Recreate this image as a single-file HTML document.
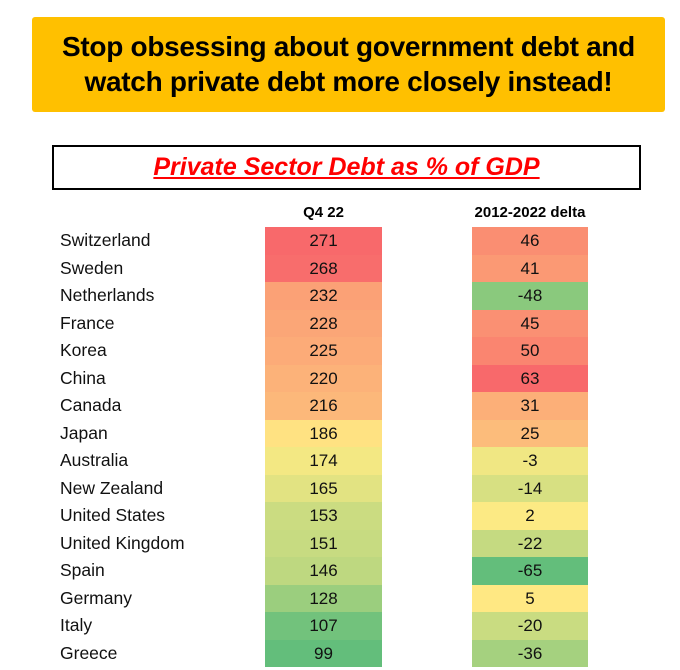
<!DOCTYPE html>
<html><head><meta charset="utf-8"><style>
body{margin:0;width:680px;height:670px;background:#fff;font-family:"Liberation Sans",sans-serif;position:relative;overflow:hidden}
.abs{position:absolute}
#title{left:32px;top:17px;width:633px;height:95px;background:#FFC000;border-radius:3px;text-align:center;font-weight:bold;font-size:28px;line-height:35px;box-sizing:border-box;padding-top:12px;color:#000;letter-spacing:-0.3px}
#sub{left:52px;top:145px;width:589px;height:45px;border:2px solid #000;box-sizing:border-box;text-align:center;color:#f00;font-style:italic;font-weight:bold;font-size:25px;line-height:41px}
#sub span{text-decoration:underline}
.hdr{font-weight:bold;font-size:15px;text-align:center;top:204px}
.name{left:60px;font-size:17.5px;height:27.5px;line-height:27.5px;color:#111}
.cell{font-size:17px;text-align:center;height:27.5px;line-height:27.5px;color:#111}
</style></head><body>
<div id="title" class="abs">Stop obsessing about government debt and<br>watch private debt more closely instead!</div>
<div id="sub" class="abs"><span>Private Sector Debt as % of GDP</span></div>
<div class="abs hdr" style="left:265px;width:117px">Q4 22</div>
<div class="abs hdr" style="left:455px;width:150px">2012-2022 delta</div>
<div id="rows"></div>
<script>
const countries=["Switzerland","Sweden","Netherlands","France","Korea","China","Canada","Japan","Australia","New Zealand","United States","United Kingdom","Spain","Germany","Italy","Greece"];
const debt=[271,268,232,228,225,220,216,186,174,165,153,151,146,128,107,99];
const delta=[46,41,-48,45,50,63,31,25,-3,-14,2,-22,-65,5,-20,-36];
function median(a){const s=[...a].sort((x,y)=>x-y);const n=s.length;return n%2?s[(n-1)/2]:(s[n/2-1]+s[n/2])/2;}
function lerp(c1,c2,t){return 'rgb('+c1.map((v,i)=>Math.round(v+(c2[i]-v)*t)).join(',')+')';}
const R=[248,105,107],Y=[255,235,132],G=[99,190,123];
function color(v,arr){const mn=Math.min(...arr),mx=Math.max(...arr),md=median(arr);
 return v>=md?lerp(Y,R,(v-md)/(mx-md||1)):lerp(Y,G,(md-v)/(md-mn||1));}
const root=document.getElementById('rows');
const top0=227,rh=27.5;
countries.forEach((c,i)=>{
 const y=top0+i*rh;
 const n=document.createElement('div');n.className='abs name';n.style.top=y+'px';n.textContent=c;
 
 
 root.appendChild(n);
 const a=document.createElement('div');a.className='abs cell';a.style.top=y+'px';a.style.left='265px';a.style.width='117px';
 a.style.background=color(debt[i],debt);a.textContent=debt[i];
 
 
 root.appendChild(a);
 const b=document.createElement('div');b.className='abs cell';b.style.top=y+'px';b.style.left='472px';b.style.width='116px';
 b.style.background=color(delta[i],delta);b.textContent=delta[i];
 
 
 root.appendChild(b);
});
</script>
</body></html>
